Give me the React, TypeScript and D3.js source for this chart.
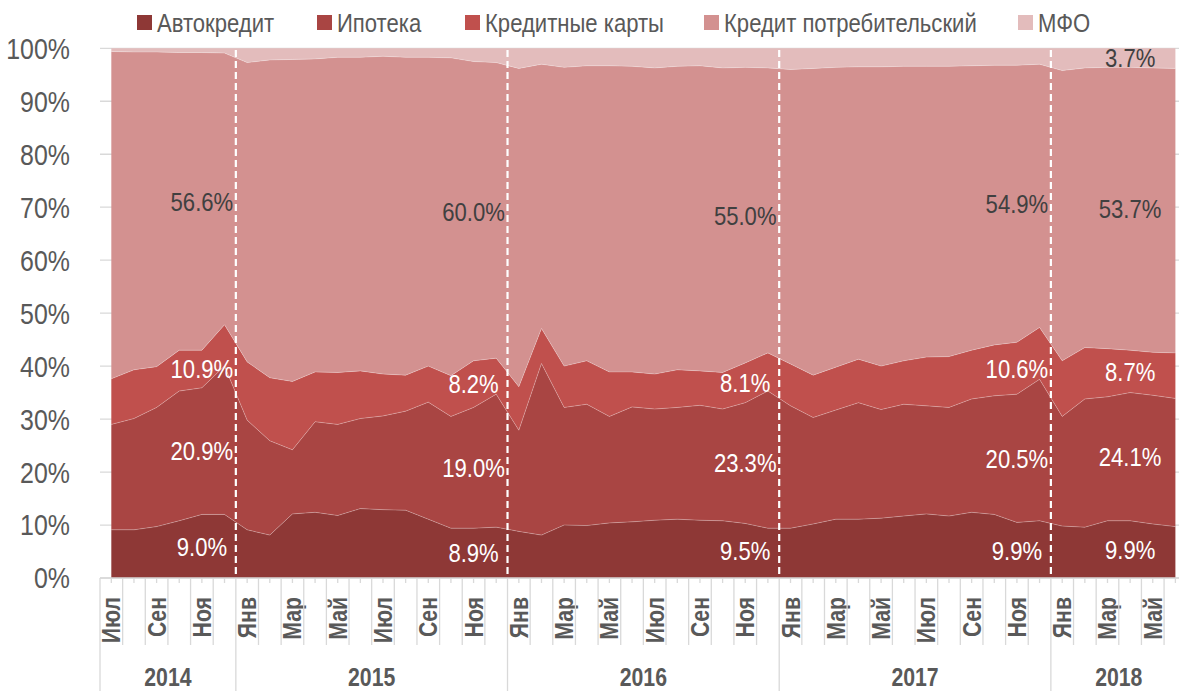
import React from 'react';
import * as d3 from 'd3';

// Структура кредитного портфеля, доли в %, июль 2014 – июнь 2018
const monthNames = ['Янв', 'Фев', 'Мар', 'Апр', 'Май', 'Июн', 'Июл', 'Авг', 'Сен', 'Окт', 'Ноя', 'Дек'];
const years = [2014, 2015, 2016, 2017, 2018];
const periods = d3.range(48).map(i => ({ year: 2014 + Math.floor((i + 6) / 12), month: (i + 6) % 12 }));

const seriesNames = ['Автокредит', 'Ипотека', 'Кредитные карты', 'Кредит потребительский', 'МФО'];

const avto = [9.1, 9.1, 9.7, 10.8, 12.0, 12.0, 9.1, 8.1, 12.1, 12.4, 11.8, 13.1, 12.9, 12.8, 11.1, 9.4, 9.4, 9.6,
  8.8, 8.1, 10.0, 9.9, 10.4, 10.6, 10.9, 11.1, 10.9, 10.8, 10.3, 9.4, 9.4, 10.2, 11.1, 11.1, 11.3, 11.7, 12.1, 11.7,
  12.4, 12.0, 10.5, 10.8, 9.8, 9.6, 10.8, 10.8, 10.2, 9.7];
const ipoteka = [19.9, 21.0, 22.5, 24.5, 23.9, 28.0, 20.7, 17.8, 12.1, 17.1, 17.2, 17.0, 17.7, 18.7, 22.1, 21.1, 22.8, 25.1,
  19.1, 32.4, 22.2, 22.9, 20.1, 21.7, 21.0, 21.1, 21.7, 21.1, 22.8, 25.9, 23.1, 20.1, 20.6, 22.0, 20.5, 21.1, 20.4, 20.5,
  21.4, 22.4, 24.2, 26.7, 20.7, 24.2, 23.4, 24.2, 24.3, 24.2];
const cards = [8.6, 9.2, 7.7, 7.7, 7.1, 7.8, 11.0, 11.9, 12.9, 9.4, 9.8, 9.0, 7.9, 6.8, 6.8, 7.7, 8.8, 6.8,
  8.2, 6.6, 7.8, 8.2, 8.4, 6.6, 6.6, 7.1, 6.5, 6.9, 7.5, 7.2, 7.9, 8.0, 8.1, 8.2, 8.2, 8.2, 9.2, 9.6,
  9.2, 9.6, 9.8, 9.8, 10.5, 9.7, 9.1, 8.0, 8.1, 8.6];
const consumer = [61.8, 60.0, 59.4, 56.2, 56.2, 51.3, 56.5, 60.0, 60.8, 59.1, 59.5, 59.2, 60.0, 60.0, 58.3, 60.0, 56.5, 55.8,
  60.1, 49.9, 56.4, 55.7, 57.8, 57.7, 57.8, 57.3, 57.6, 57.5, 55.8, 53.8, 55.6, 57.9, 56.6, 55.2, 56.5, 55.6, 54.9, 54.8,
  53.7, 52.8, 52.3, 49.7, 54.8, 52.8, 53.1, 53.4, 53.7, 53.7];
const mfo = [0.6, 0.7, 0.7, 0.8, 0.8, 0.9, 2.7, 2.2, 2.1, 2.0, 1.7, 1.7, 1.5, 1.7, 1.7, 1.8, 2.5, 2.7,
  3.8, 3.0, 3.6, 3.3, 3.3, 3.4, 3.7, 3.4, 3.3, 3.7, 3.6, 3.7, 4.0, 3.8, 3.6, 3.5, 3.5, 3.4, 3.4, 3.4,
  3.3, 3.2, 3.2, 3.0, 4.2, 3.7, 3.6, 3.6, 3.7, 3.8];

// подписи: по одной точке в каждом году
const labelPoints = [4, 16, 28, 40, 45];
const avtoLabels = ['9.0%', '8.9%', '9.5%', '9.9%', '9.9%'];
const ipotekaLabels = ['20.9%', '19.0%', '23.3%', '20.5%', '24.1%'];
const cardsLabels = ['10.9%', '8.2%', '8.1%', '10.6%', '8.7%'];
const consumerLabels = ['56.6%', '60.0%', '55.0%', '54.9%', '53.7%'];
const mfoLabels = ['', '', '', '', '3.7%'];

const yTicks = d3.range(0, 1.01, 0.1);

const keys = ['avto', 'ipoteka', 'cards', 'consumer', 'mfo'];
const seriesData = [avto, ipoteka, cards, consumer, mfo];
const seriesLabels = [avtoLabels, ipotekaLabels, cardsLabels, consumerLabels, mfoLabels];
const colors = ['#8E3836', '#A94543', '#C0504D', '#D39190', '#E3BCBC'];
const labelColors = ['#fff', '#fff', '#fff', '#404040', '#404040'];

const W = 1179, H = 691;
const FONT = "'Liberation Sans', Arial, sans-serif";
const NARROW = 0.85; // имитация Arial Narrow
const GRAY = '#595959';
const LINE = '#d9d9d9';
const legendX = [137, 317, 465, 704, 1018];

// текст, сжатый по горизонтали
const NText = ({ x, y, rotate = 0, narrow = NARROW, children, ...rest }: any) => (
  <text transform={`translate(${x},${y}) rotate(${rotate}) scale(${narrow},1)`} {...rest}>{children}</text>
);

const App = () => {
  const rows = periods.map((p, i) => {
    const r: any = { i };
    keys.forEach((k, s) => { r[k] = seriesData[s][i]; });
    return r;
  });
  const stacked = d3.stack().keys(keys).offset(d3.stackOffsetExpand)(rows);

  const x = d3.scaleBand<number>().domain(d3.range(48)).range([100, 100 + 48 * 22.64]).paddingInner(0);
  const cx = (i: number) => (x(i) as number) + x.bandwidth() / 2;
  const y = d3.scaleLinear().domain([0, 1]).range([578, 48.3]);

  const area = d3.area<any>()
    .x((d) => cx(d.data.i))
    .y0(d => y(d[0]))
    .y1(d => y(d[1]));
  const topLine = d3.line<any>().x(d => cx(d.data.i)).y(d => y(d[1]));

  const yearBounds = years.map(yr => {
    const idx = periods.map((p, i) => (p.year === yr ? i : -1)).filter(i => i >= 0);
    return { yr, x0: x(idx[0]) as number, x1: (x(idx[idx.length - 1]) as number) + x.bandwidth() };
  });

  return (
    <svg width={W} height={H} style={{ position: 'absolute', left: 0, top: 0, background: '#fff' }} fontFamily={FONT}>
      {/* сетка */}
      {yTicks.map(t => (
        <line key={t} x1={100} x2={1188} y1={y(t)} y2={y(t)} stroke={LINE} strokeWidth={1.3} />
      ))}
      {yTicks.map(t => (
        <NText key={'l' + t} x={70} y={y(t)} dy="0.36em" textAnchor="end" fontSize={29} narrow={0.86} fill={GRAY}>
          {d3.format('.0%')(t)}
        </NText>
      ))}

      {stacked.map((s, k) => (
        <path key={s.key} d={area(s) as string} fill={colors[k]} />
      ))}
      {stacked.slice(0, 4).map(s => (
        <path key={'t' + s.key} d={topLine(s) as string} fill="none" stroke="rgba(255,255,255,0.25)" strokeWidth={1} />
      ))}

      {/* границы лет */}
      {yearBounds.slice(1).map(b => (
        <line key={'d' + b.yr} x1={b.x0} x2={b.x0} y1={50} y2={578} stroke="#fff" strokeWidth={2.2} strokeDasharray="7,4" />
      ))}

      {/* подписи данных */}
      {stacked.map((s, k) => labelPoints.map((p, j) => {
        const txt = seriesLabels[k][j];
        if (!txt) return null;
        const d = s[p];
        return (
          <NText key={s.key + p} x={cx(p)} y={y((d[0] + d[1]) / 2)} dy="0.36em" textAnchor="middle"
            fontSize={26} fill={labelColors[k]}>{txt}</NText>
        );
      }))}

      {/* ось X */}
      <line x1={100} x2={1188} y1={578} y2={578} stroke={LINE} strokeWidth={1.3} />
      {periods.map((p, i) => (
        <g key={'x' + i}>
          <line x1={x(i)} x2={x(i)} y1={578} y2={p.month === 0 || i === 0 ? 700 : 645} stroke={LINE} strokeWidth={1.3} />
          <line x1={cx(i)} x2={cx(i)} y1={578} y2={583} stroke={LINE} strokeWidth={1.3} />
          {i % 2 === 0 && (
            <NText x={cx(i)} y={597} rotate={-90} dy="0.36em" textAnchor="end"
              fontSize={25} fontWeight="bold" fill={GRAY}>{monthNames[p.month]}</NText>
          )}
        </g>
      ))}
      {yearBounds.map(b => (
        <NText key={'y' + b.yr} x={(b.x0 + b.x1) / 2} y={686} textAnchor="middle" fontSize={25}
          fontWeight="bold" fill={GRAY}>{b.yr}</NText>
      ))}

      {/* легенда */}
      {seriesNames.map((n, k) => (
        <g key={n} transform={`translate(${legendX[k]},0)`}>
          <rect x={0} y={15} width={15} height={15} fill={colors[k]} />
          <NText x={20} y={22.5} dy="0.36em" fontSize={26} fill={GRAY}>{n}</NText>
        </g>
      ))}
    </svg>
  );
};

export default App;
